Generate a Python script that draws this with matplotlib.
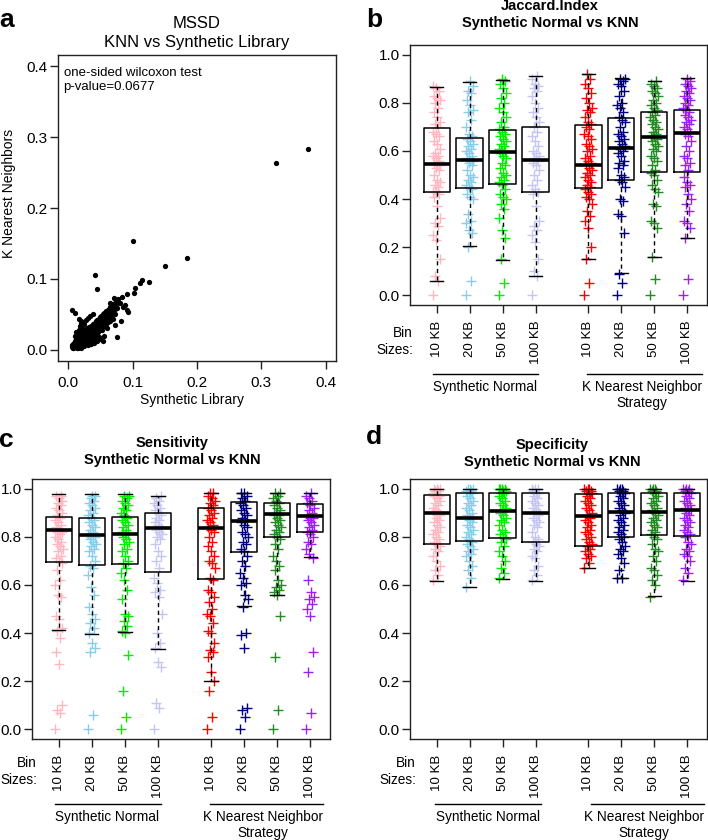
import numpy as np
import matplotlib
matplotlib.use('Agg')
import matplotlib.pyplot as plt
from matplotlib.lines import Line2D

plt.rcParams['font.family'] = ['Liberation Sans', 'DejaVu Sans']

W, H = 708, 840

# ---------------- Panel a data (MSSD, thousandths) ----------------
mssd_synthetic = [5, 6, 7, 8, 8, 9, 10, 10, 11, 11, 12, 12, 13, 13, 14, 14, 15, 15, 16, 16,
                  17, 17, 18, 18, 19, 19, 20, 20, 21, 21, 22, 22, 23, 23, 24, 24, 25, 25, 26, 26,
                  27, 27, 28, 28, 29, 29, 30, 30, 31, 31, 32, 32, 33, 33, 34, 34, 35, 35, 36, 36,
                  37, 37, 38, 38, 39, 39, 40, 40, 41, 41, 42, 42, 43, 43, 44, 44, 45, 45, 46, 46,
                  47, 47, 48, 48, 49, 49, 50, 50, 51, 51, 52, 52, 53, 53, 54, 54, 55, 55, 56, 56,
                  57, 57, 58, 58, 59, 59, 60, 60, 61, 61, 62, 62, 63, 63, 64, 64, 65, 66, 66, 67,
                  68, 68, 70, 70, 72, 72, 74, 76, 73, 69, 65, 60,
                  10, 12, 14, 16, 18, 20, 22, 24, 28, 30, 34, 38, 5, 10, 16, 20,
                  20, 25, 30, 35, 40, 45, 50, 15, 8, 55, 48,
                  372, 323, 100, 185, 150, 41, 44, 125, 114, 111, 103, 102, 92, 83, 71, 75,
                  93, 92, 82, 75, 54, 73, 65, 78, 80, 85, 88]
mssd_knn = [4, 6, 3, 8, 5, 10, 4, 7, 12, 9, 6, 15, 10, 3, 8, 13, 18, 11, 6, 14,
            20, 9, 16, 12, 22, 5, 14, 19, 10, 24, 17, 13, 21, 8, 26, 15, 19, 11, 23, 28,
            16, 20, 13, 25, 30, 18, 22, 10, 27, 15, 32, 20, 24, 17, 29, 12, 34, 22, 26, 19,
            31, 15, 36, 24, 28, 21, 33, 17, 38, 26, 30, 23, 35, 40, 27, 20, 32, 42, 37, 25,
            30, 44, 34, 39, 28, 46, 36, 31, 41, 48, 33, 38, 44, 28, 50, 36, 40, 46, 34, 52,
            42, 38, 48, 55, 36, 44, 50, 41, 56, 46, 39, 53, 48, 58, 44, 52, 60, 47, 55, 62,
            50, 57, 64, 53, 58, 66, 61, 68, 50, 44, 40, 30,
            20, 25, 22, 28, 33, 38, 30, 36, 42, 45, 47, 50, 56, 52, 44, 40,
            3, 5, 6, 8, 10, 12, 15, 2, 2, 20, 18,
            283, 264, 154, 129, 118, 105, 86, 96, 99, 94, 87, 80, 78, 74, 73, 59,
            53, 56, 41, 18, 12, 35, 66, 71, 66, 60, 63]

# ---------------- Box panels ----------------
bin_labels = ['10 KB', '20 KB', '50 KB', '100 KB', '10 KB', '20 KB', '50 KB', '100 KB']
group_colors = ['#FFB6C1', '#87CEEB', '#00EE00', '#C6C6F2',
                '#FF0000', '#000080', '#228B22', '#A020F0']

# Jaccard index (hundredths)
jac_sn10 = [0, 6, 8, 15, 23, 25, 29, 30, 32, 37, 41, 42, 43, 43, 45, 46, 47, 48, 50, 52, 53, 54, 54, 55,
            56, 57, 58, 58, 59, 61, 63, 64, 66, 67, 68, 70, 71, 72, 74, 76, 78, 80, 81, 82, 83, 85, 86, 87]
jac_sn20 = [0, 6, 20, 26, 27, 30, 31, 34, 40, 41, 42, 44, 45, 46, 47, 48, 49, 50, 52, 54, 55, 56, 56,
            57, 58, 59, 60, 61, 62, 63, 64, 65, 66, 67, 70, 73, 76, 77, 79, 81, 84, 85, 87, 89]
jac_sn50 = [0, 5, 15, 24, 27, 32, 36, 38, 40, 41, 42, 44, 46, 47, 48, 49, 50, 51, 53, 54, 55, 57, 58,
            59, 60, 60, 61, 62, 63, 64, 65, 66, 67, 68, 69, 70, 72, 74, 76, 78, 80, 82, 84, 86, 88, 89, 90]
jac_sn100 = [0, 8, 10, 15, 22, 25, 27, 29, 31, 37, 42, 43, 44, 46, 48, 50, 52, 54, 55, 56, 57, 58, 59,
             60, 62, 64, 66, 68, 70, 72, 74, 76, 78, 80, 83, 85, 86, 87, 88, 90, 91]
jac_knn10 = [0, 5, 15, 20, 28, 31, 33, 35, 38, 40, 41, 42, 43, 44, 45, 46, 47, 48, 49, 50, 51, 52, 53,
             54, 55, 56, 57, 58, 60, 61, 62, 63, 65, 66, 67, 69, 70, 71, 72, 74, 76, 77, 78, 80, 82, 84,
             86, 88, 90, 92]
jac_knn20 = [0, 5, 9, 26, 33, 34, 39, 40, 45, 47, 48, 49, 50, 53, 54, 55, 56, 58, 59, 60, 61, 62, 63,
             64, 65, 66, 67, 68, 70, 72, 73, 74, 76, 78, 79, 80, 83, 85, 87, 88, 89, 90, 90]
jac_knn50 = [0, 7, 16, 28, 30, 31, 37, 38, 43, 44, 46, 48, 50, 51, 52, 54, 56, 57, 58, 60, 61, 62, 63,
             64, 65, 66, 66, 67, 68, 69, 70, 71, 72, 73, 74, 75, 76, 77, 78, 79, 80, 81, 83, 84, 85, 86,
             87, 88, 89]
jac_knn100 = [0, 7, 24, 28, 30, 31, 35, 38, 40, 42, 45, 46, 47, 49, 52, 54, 55, 57, 58, 60, 62, 64, 66,
              67, 68, 69, 70, 71, 72, 73, 74, 75, 76, 77, 78, 79, 80, 81, 82, 83, 84, 85, 86, 87, 88,
              89, 90]
jac_med = [0.545, 0.563, 0.594, 0.563, 0.542, 0.611, 0.659, 0.676]
jac_q1 = [0.430, 0.444, 0.461, 0.428, 0.447, 0.479, 0.514, 0.514]
jac_q3 = [0.694, 0.655, 0.688, 0.701, 0.708, 0.738, 0.763, 0.770]
jac_lo = [0.059, 0.203, 0.148, 0.080, 0.150, 0.091, 0.159, 0.237]
jac_hi = [0.866, 0.887, 0.895, 0.912, 0.921, 0.902, 0.891, 0.902]

# Sensitivity (hundredths)
sen_sn10 = [0, 7, 8, 10, 27, 32, 38, 41, 42, 46, 47, 55, 56, 60, 62, 66, 69, 70, 71, 72, 74, 75, 76,
            77, 78, 79, 80, 81, 82, 82, 83, 84, 85, 86, 87, 88, 89, 90, 91, 92, 93, 94, 95, 96, 97, 97]
sen_sn20 = [0, 6, 32, 34, 36, 40, 42, 44, 46, 48, 51, 56, 59, 64, 67, 68, 70, 72, 74, 75, 76, 77, 78,
            79, 80, 80, 81, 82, 83, 84, 85, 86, 87, 88, 89, 90, 91, 92, 93, 94, 95, 96, 97, 97]
sen_sn50 = [0, 5, 16, 31, 40, 41, 43, 45, 47, 48, 54, 58, 62, 65, 67, 69, 70, 72, 74, 75, 77, 78, 79,
            80, 81, 81, 82, 83, 84, 85, 86, 87, 88, 89, 90, 91, 92, 93, 94, 95, 96, 97, 97]
sen_sn100 = [0, 9, 11, 26, 28, 34, 36, 40, 48, 55, 57, 58, 61, 63, 67, 70, 72, 74, 77, 79, 80, 81, 82,
             83, 84, 85, 86, 87, 88, 89, 90, 91, 92, 93, 94, 95, 96, 97]
sen_knn10 = [0, 5, 16, 20, 24, 30, 32, 33, 36, 40, 41, 44, 47, 48, 50, 53, 55, 57, 58, 62, 63, 67, 69,
             70, 72, 74, 76, 78, 80, 82, 83, 84, 85, 86, 87, 88, 89, 90, 91, 92, 93, 94, 95, 96, 97,
             98, 98]
sen_knn20 = [0, 5, 8, 9, 34, 39, 40, 51, 54, 56, 60, 61, 63, 65, 68, 70, 72, 74, 75, 77, 78, 80, 81,
             82, 84, 85, 86, 87, 88, 89, 90, 91, 92, 93, 94, 95, 96, 97, 98, 98]
sen_knn50 = [0, 8, 30, 47, 56, 57, 58, 59, 60, 62, 66, 68, 70, 72, 75, 77, 79, 80, 81, 82, 83, 84, 85,
             86, 87, 88, 89, 89, 90, 91, 92, 93, 94, 95, 96, 97, 98, 98]
sen_knn100 = [0, 7, 24, 32, 47, 50, 52, 54, 55, 57, 62, 71, 73, 75, 77, 78, 80, 81, 82, 83, 84, 85,
              86, 87, 88, 88, 89, 90, 91, 92, 93, 94, 95, 96, 97, 98]
sen_med = [0.829, 0.807, 0.810, 0.838, 0.838, 0.865, 0.896, 0.886]
sen_q1 = [0.694, 0.682, 0.688, 0.654, 0.625, 0.736, 0.799, 0.819]
sen_q3 = [0.882, 0.879, 0.883, 0.900, 0.921, 0.946, 0.939, 0.935]
sen_lo = [0.414, 0.397, 0.404, 0.335, 0.201, 0.511, 0.557, 0.714]
sen_hi = [0.976, 0.976, 0.976, 0.969, 0.981, 0.981, 0.983, 0.981]

# Specificity (hundredths)
spe_sn10 = [62, 64, 66, 68, 70, 72, 74, 75, 76, 77, 78, 79, 80, 81, 82, 83, 84, 85, 86, 87, 88, 89, 89,
            90, 90, 91, 92, 93, 94, 95, 96, 97, 97, 98, 98, 99, 99, 100, 100, 100]
spe_sn20 = [59, 63, 66, 68, 70, 72, 73, 74, 75, 76, 77, 78, 79, 80, 81, 82, 83, 84, 85, 86, 87, 88, 88,
            89, 90, 91, 92, 93, 94, 95, 96, 97, 98, 98, 99, 99, 100, 100, 100]
spe_sn50 = [63, 65, 67, 70, 72, 74, 76, 78, 79, 80, 81, 82, 83, 85, 86, 87, 88, 89, 90, 91, 91, 92, 93,
            94, 95, 96, 97, 98, 98, 99, 99, 100, 100, 100, 100]
spe_sn100 = [62, 64, 66, 68, 71, 72, 74, 75, 76, 77, 78, 79, 80, 82, 84, 85, 86, 87, 88, 89, 90, 90,
             91, 92, 93, 94, 95, 96, 97, 98, 98, 99, 100, 100, 100]
spe_knn10 = [67, 69, 71, 72, 73, 74, 75, 76, 77, 78, 79, 80, 81, 82, 83, 84, 85, 86, 87, 88, 89, 90,
             91, 92, 93, 94, 95, 96, 97, 98, 98, 99, 99, 100, 100, 100]
spe_knn20 = [63, 63, 66, 69, 71, 73, 74, 75, 76, 78, 79, 80, 81, 82, 83, 84, 85, 86, 87, 88, 89, 90,
             91, 92, 93, 94, 95, 96, 97, 98, 98, 99, 99, 100, 100, 100]
spe_knn50 = [55, 60, 62, 64, 66, 67, 70, 72, 74, 75, 77, 79, 80, 81, 82, 83, 84, 85, 86, 87, 88, 89,
             90, 91, 92, 93, 94, 95, 96, 97, 98, 99, 99, 100, 100, 100]
spe_knn100 = [62, 65, 67, 70, 72, 73, 74, 75, 77, 78, 80, 81, 82, 83, 84, 85, 86, 87, 88, 89, 90, 91,
              91, 92, 93, 94, 95, 96, 97, 98, 99, 99, 100, 100, 100]
spe_med = [0.897, 0.880, 0.908, 0.899, 0.887, 0.902, 0.901, 0.910]
spe_q1 = [0.772, 0.782, 0.793, 0.777, 0.763, 0.800, 0.806, 0.803]
spe_q3 = [0.972, 0.982, 0.983, 0.982, 0.979, 0.982, 0.982, 0.983]
spe_lo = [0.618, 0.590, 0.625, 0.617, 0.672, 0.628, 0.552, 0.618]
spe_hi = [1.0, 1.0, 1.0, 1.0, 1.0, 1.0, 1.0, 1.0]

positions = [1, 2, 3, 4, 5.6, 6.6, 7.6, 8.6]

fig = plt.figure(figsize=(W / 100, H / 100), dpi=100)


def add_axes_px(x0, y0, x1, y1):
    return fig.add_axes([x0 / W, 1 - y1 / H, (x1 - x0) / W, (y1 - y0) / H])


def ftext(x, y, s, **kw):
    fig.text(x / W, 1 - y / H, s, **kw)


def fline(x0, x1, y):
    fig.add_artist(Line2D([x0 / W, x1 / W], [1 - y / H, 1 - y / H], color='black', lw=1.0))


def style_axes(ax):
    for sp in ax.spines.values():
        sp.set_linewidth(1.0)
        sp.set_color('#222222')


# ---------------- Panel a ----------------
axa = add_axes_px(58, 55, 336, 361)
axa.plot(np.array(mssd_synthetic) / 1000, np.array(mssd_knn) / 1000, ls='none', marker='o',
         ms=3.8, color='black', mew=0)
axa.set_xlim(-0.016, 0.416)
axa.set_ylim(-0.016, 0.416)
ticks_a = [0.0, 0.1, 0.2, 0.3, 0.4]
axa.set_xticks(ticks_a, [f'{t:.1f}' for t in ticks_a])
axa.set_yticks(ticks_a, [f'{t:.1f}' for t in ticks_a])
axa.tick_params(axis='both', length=5.8, width=1, labelsize=11, color='#222222')
axa.tick_params(axis='x', pad=5)
axa.tick_params(axis='y', pad=1.5)
style_axes(axa)
axa.text(0.02, 0.96, 'one-sided wilcoxon test\np-value=0.0677', transform=axa.transAxes,
         ha='left', va='top', fontsize=9.5, linespacing=1.15)
ftext(197, 23, 'MSSD', ha='center', va='center', fontsize=12)
ftext(197, 43, 'KNN vs Synthetic Library', ha='center', va='center', fontsize=12)
ftext(192, 400, 'Synthetic Library', ha='center', va='center', fontsize=10)
ftext(9, 193, 'K Nearest Neighbors', ha='center', va='center', fontsize=10, rotation=90)
ftext(7, 20, 'a', ha='center', va='center', fontsize=19, fontweight='bold')


def box_panel(ax, pts, med, q1, q3, lo, hi):
    for i, (p, vals) in enumerate(zip(positions, pts)):
        v = np.asarray(vals, dtype=float) / 100
        k = np.arange(len(v))
        off = ((k * 0.618034) % 1 - 0.5) * 0.24
        ax.plot(p + off, v, ls='none', marker='+', ms=7, mew=1.0, color=group_colors[i], zorder=2)
    stats = [dict(med=med[i], q1=q1[i], q3=q3[i], whislo=lo[i], whishi=hi[i]) for i in range(8)]
    ax.bxp(stats, positions=positions, widths=0.8, showfliers=False, manage_ticks=False,
           boxprops=dict(color='black', lw=1.1),
           medianprops=dict(color='black', lw=2.6, solid_capstyle='butt'),
           whiskerprops=dict(color='black', lw=1.0, linestyle=(0, (3, 2.5))),
           capprops=dict(color='black', lw=1.0), capwidths=0.4, zorder=3)
    ax.set_xlim(0.19, 9.2)
    ax.set_ylim(-0.04, 1.04)
    yt = [0.0, 0.2, 0.4, 0.6, 0.8, 1.0]
    ax.set_yticks(yt, [f'{t:.1f}' for t in yt])
    ax.set_xticks(positions, bin_labels, rotation=90)
    ax.tick_params(axis='both', length=5.8, width=1, color='#222222')
    ax.tick_params(axis='y', labelsize=11, pad=1.5)
    ax.tick_params(axis='x', labelsize=9.5, pad=5.5)
    style_axes(ax)


def bottom_labels(xr, xtick_right, lines_y, sn_rng, knn_rng, sn_cx, knn_cx, bin_y):
    ftext(xtick_right, bin_y, 'Bin', ha='right', va='center', fontsize=9.8)
    ftext(xtick_right, bin_y + 17, 'Sizes:', ha='right', va='center', fontsize=9.8)
    fline(sn_rng[0], sn_rng[1], lines_y)
    fline(knn_rng[0], knn_rng[1], lines_y)
    ftext(sn_cx, lines_y + 13, 'Synthetic Normal', ha='center', va='center', fontsize=9.8)
    ftext(knn_cx, lines_y + 13, 'K Nearest Neighbor', ha='center', va='center', fontsize=9.8)
    ftext(knn_cx, lines_y + 29, 'Strategy', ha='center', va='center', fontsize=9.8)


# ---------------- Panel b ----------------
axb = add_axes_px(410, 45, 707, 305)
box_panel(axb, [jac_sn10, jac_sn20, jac_sn50, jac_sn100, jac_knn10, jac_knn20, jac_knn50, jac_knn100],
          jac_med, jac_q1, jac_q3, jac_lo, jac_hi)
ftext(550, 6, 'Jaccard.Index', ha='center', va='center', fontsize=10.5, fontweight='bold')
ftext(550, 23, 'Synthetic Normal vs KNN', ha='center', va='center', fontsize=10.5, fontweight='bold')
ftext(374, 20, 'b', ha='center', va='center', fontsize=19, fontweight='bold')
bottom_labels(None, 413, 374, (433, 538), (587, 702), 485, 642, 333)

# ---------------- Panel c ----------------
axc = add_axes_px(32, 479, 330, 739)
box_panel(axc, [sen_sn10, sen_sn20, sen_sn50, sen_sn100, sen_knn10, sen_knn20, sen_knn50, sen_knn100],
          sen_med, sen_q1, sen_q3, sen_lo, sen_hi)
ftext(172, 443, 'Sensitivity', ha='center', va='center', fontsize=10.5, fontweight='bold')
ftext(172, 460, 'Synthetic Normal vs KNN', ha='center', va='center', fontsize=10.5, fontweight='bold')
ftext(6, 440, 'c', ha='center', va='center', fontsize=19, fontweight='bold')
bottom_labels(None, 37, 804, (55, 161), (210, 323), 107, 263, 763)

# ---------------- Panel d ----------------
axd = add_axes_px(410, 479, 707, 739)
box_panel(axd, [spe_sn10, spe_sn20, spe_sn50, spe_sn100, spe_knn10, spe_knn20, spe_knn50, spe_knn100],
          spe_med, spe_q1, spe_q3, spe_lo, spe_hi)
ftext(552, 445, 'Specificity', ha='center', va='center', fontsize=10.5, fontweight='bold')
ftext(552, 462, 'Synthetic Normal vs KNN', ha='center', va='center', fontsize=10.5, fontweight='bold')
ftext(374, 437, 'd', ha='center', va='center', fontsize=19, fontweight='bold')
bottom_labels(None, 416, 804, (435, 541), (591, 704), 488, 644, 763)

fig.savefig('out.png', dpi=100)
